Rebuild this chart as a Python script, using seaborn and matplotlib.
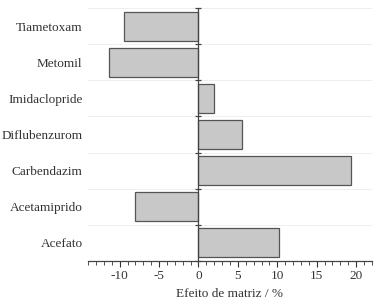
import numpy as np
import pandas as pd
import matplotlib
matplotlib.use('Agg')
import matplotlib.pyplot as plt
from matplotlib.ticker import MultipleLocator, FixedLocator
import seaborn as sns

compounds = ['Tiametoxam', 'Metomil', 'Imidaclopride', 'Diflubenzurom',
             'Carbendazim', 'Acetamiprido', 'Acefato']
matrix_effect = [-9.5, -11.4, 2.0, 5.5, 19.4, -8.1, 10.2]


def main():
    sns.set_style('white')
    plt.rcParams['font.family'] = 'serif'
    plt.rcParams['font.serif'] = ['Liberation Serif', 'DejaVu Serif']
    plt.rcParams['font.size'] = 9.5
    plt.rcParams['axes.unicode_minus'] = False

    df = pd.DataFrame({'composto': compounds, 'efeito': matrix_effect})

    fig = plt.figure(figsize=(3.83, 3.06), dpi=100)
    ax = fig.add_axes([0.23, 0.148, 0.741, 0.825])

    sns.barplot(data=df, x='efeito', y='composto', order=compounds, orient='h',
                color='#c8c8c8', saturation=1, width=0.8,
                edgecolor='#555555', linewidth=0.9, ax=ax)

    n = len(compounds)
    ax.set_xlim(-14, 22)
    ax.set_ylim(n - 0.5, -0.5)

    ax.xaxis.set_major_locator(MultipleLocator(5))
    ax.xaxis.set_minor_locator(MultipleLocator(1))
    ax.tick_params(axis='x', which='both', direction='out', bottom=True,
                   colors='#333333', labelcolor='#333333')
    ax.tick_params(axis='x', which='major', length=4, width=0.8, pad=3)
    ax.tick_params(axis='x', which='minor', length=3, width=0.6)

    # faint separators between categories
    bounds = np.arange(n + 1) - 0.5
    ax.yaxis.set_minor_locator(FixedLocator(bounds))
    ax.tick_params(axis='y', which='both', length=0, pad=4, labelcolor='#333333')
    ax.grid(which='minor', axis='y', color='#ececec', linewidth=0.6)
    ax.set_axisbelow(True)

    # zero line with small ticks at category boundaries
    ax.axvline(0, color='#444444', linewidth=0.9, zorder=3)
    ax.plot(np.zeros(len(bounds)), bounds, linestyle='none', marker='_',
            markersize=5, color='#444444', markeredgewidth=0.9, zorder=3,
            clip_on=False)

    for side in ['top', 'right', 'left']:
        ax.spines[side].set_visible(False)
    ax.spines['bottom'].set_color('#444444')
    ax.spines['bottom'].set_linewidth(0.9)

    ax.set_ylabel('')
    ax.set_xlabel('Efeito de matriz / %', color='#333333', labelpad=4)

    fig.savefig('out.png', dpi=100)


if __name__ == '__main__':
    main()
